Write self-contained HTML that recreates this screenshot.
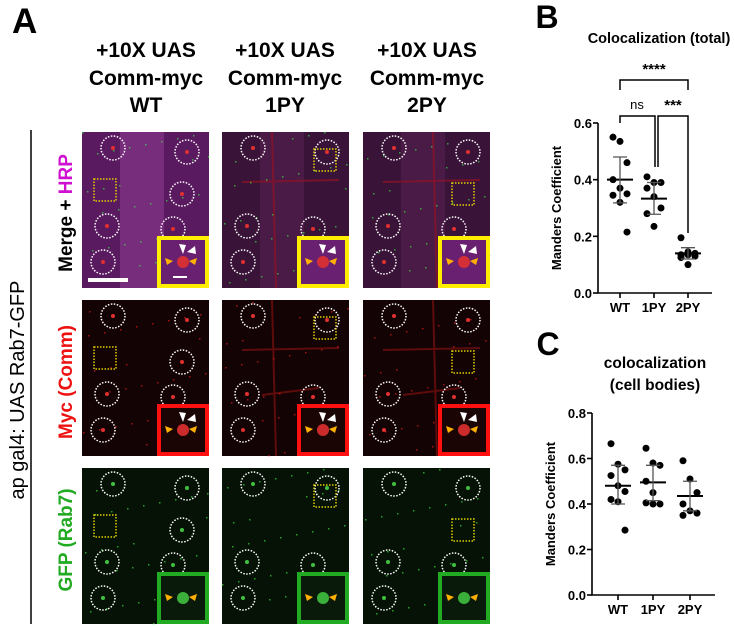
<!DOCTYPE html>
<html><head><meta charset="utf-8"><style>
html,body{margin:0;padding:0;background:#fff;}
svg{display:block;font-family:"Liberation Sans",sans-serif;}
</style></head><body>
<svg id="fig" width="735" height="626" viewBox="0 0 735 626">
<text x="12" y="33" font-size="35" font-weight="bold">A</text>
<g font-size="21" font-weight="bold" text-anchor="middle">
<text x="146" y="57">+10X UAS</text><text x="146" y="85">Comm-myc</text><text x="146" y="112">WT</text>
<text x="285" y="57">+10X UAS</text><text x="285" y="85">Comm-myc</text><text x="285" y="112">1PY</text>
<text x="427" y="57">+10X UAS</text><text x="427" y="85">Comm-myc</text><text x="427" y="112">2PY</text>
</g>
<line x1="31" y1="130" x2="31" y2="624" stroke="#000" stroke-width="1.5"/>
<text transform="translate(24,390) rotate(-90)" font-size="20" text-anchor="middle">ap gal4: UAS Rab7-GFP</text>
<text transform="translate(72,213) rotate(-90)" font-size="19" font-weight="bold" text-anchor="middle">Merge + <tspan fill="#d010d0">HRP</tspan></text>
<text transform="translate(72,382) rotate(-90)" font-size="19" font-weight="bold" fill="#ee1111" text-anchor="middle">Myc (Comm)</text>
<text transform="translate(72,540) rotate(-90)" font-size="19" font-weight="bold" fill="#22aa22" text-anchor="middle">GFP (Rab7)</text>
<g id="panels"></g>
<g id="chartB"></g>
<g id="chartC"></g>
</svg>
<script>
// Chart B data
const catsB = ["WT","1PY","2PY"];
const bWT = [0.55,0.535,0.46,0.40,0.37,0.35,0.345,0.32,0.215];
const b1PY = [0.41,0.39,0.39,0.37,0.34,0.30,0.28,0.235];
const b2PY = [0.195,0.145,0.14,0.135,0.135,0.13,0.125,0.10];
const bMean = [0.40,0.333,0.14];
const bSdHi = [0.48,0.39,0.16];
const bSdLo = [0.318,0.278,0.12];
const bTicks = ["0.0","0.2","0.4","0.6"];
// Chart C data
const catsC = ["WT","1PY","2PY"];
const cWT = [0.665,0.575,0.55,0.525,0.48,0.455,0.42,0.41,0.285];
const c1PY = [0.645,0.58,0.57,0.50,0.45,0.40,0.405,0.40];
const c2PY = [0.59,0.51,0.45,0.40,0.37,0.36,0.35];
const cMean = [0.48,0.495,0.435];
const cSdHi = [0.57,0.57,0.50];
const cSdLo = [0.40,0.415,0.37];
const cTicks = ["0.0","0.2","0.4","0.6","0.8"];

const NS="http://www.w3.org/2000/svg";
function mk(tag,attrs,parent){const e=document.createElementNS(NS,tag);for(const k in attrs)e.setAttribute(k,attrs[k]);parent.appendChild(e);return e;}

// ---------- microscopy panels ----------
const panels=document.getElementById('panels');
const colX=[82,222,363], rowY=[132,300,468], PW=127, PH=156;
const rowBg=['#5a1a60','#140304','#061206'];
const circ=[[31,16],[105,20],[25,94],[91,97],[21,130],[100,62]];
const sq=[[23,58],[103,28],[100,62]];
const dotCol=['#30ff40','#ff2020','#40ff40'];
for(let r=0;r<3;r++)for(let c=0;c<3;c++){
  const x=colX[c],y=rowY[r];
  const g=mk('g',{},panels);
  
  
  let bg=rowBg[r]; if(r===0&&c>0) bg='#3a1438';
  mk('rect',{x:x,y:y,width:PW,height:PH,fill:bg},g);
  if(r===0){mk('rect',{x:x+38,y:y,width:44,height:PH,fill:c===0?'#8a3a90':'#542050',opacity:0.6},g);}
  if(r===1&&c>0){mk('path',{d:`M${x+c*20+30} ${y} L${x+c*20+34} ${y+PH} M${x+20} ${y+50} L${x+PW-10} ${y+48} M${x+40} ${y+95} L${x+PW-30} ${y+88}`,stroke:'#901010','stroke-width':2,fill:'none',opacity:0.6},g);}
  if(r===0&&c>0){mk('path',{d:`M${x+c*20+30} ${y} L${x+c*20+34} ${y+PH} M${x+20} ${y+50} L${x+PW-10} ${y+48}`,stroke:'#a01020','stroke-width':2,fill:'none',opacity:0.6},g);}
  for(let i=0;i<30;i++){const px=x+((i*37+c*13+r*7)%PW),py=y+((i*53+c*29+r*11)%PH);
    mk('rect',{x:px,y:py,width:1.5,height:1.5,fill:dotCol[r],opacity:0.6},g);}
  const cs=c===0?circ.slice(0,6):circ.slice(0,5);
  cs.forEach((p)=>{
    mk('circle',{cx:x+p[0],cy:y+p[1],r:12,fill:'none',stroke:'#fff','stroke-width':1.5,'stroke-dasharray':'1.5 1.5'},g);
    mk('circle',{cx:x+p[0],cy:y+p[1],r:2,fill:r===2?'#40c040':'#e03030'},g);});
  const s=sq[c];
  mk('rect',{x:x+s[0]-11,y:y+s[1]-11,width:22,height:22,fill:'none',stroke:'#e0d000','stroke-width':1.5,'stroke-dasharray':'1.5 1.5'},g);
  const ic=['#ffee00','#ff1010','#22aa22'][r];
  const ib=['#6a2070','#1a0404','#0a1a0a'][r];
  mk('rect',{x:x+PW-50,y:y+PH-50,width:48,height:48,fill:ib,stroke:ic,'stroke-width':4},g);
  mk('circle',{cx:x+PW-26,cy:y+PH-26,r:6,fill:r===2?'#40c040':'#e03030',opacity:0.9},g);
  mk('path',{d:`M${x+PW-44} ${y+PH-30} l8 3 l-6 4 z M${x+PW-12} ${y+PH-30} l-8 3 l6 4 z`,fill:'#ffb000'},g);
  if(r<2) mk('path',{d:`M${x+PW-30} ${y+PH-44} l4 10 l3 -9 z M${x+PW-14} ${y+PH-42} l-8 6 l9 2 z`,fill:'#fff'},g);
  if(r===0&&c===0){mk('rect',{x:x+6,y:y+PH-10,width:40,height:4,fill:'#fff'},g);mk('rect',{x:x+PW-36,y:y+PH-12,width:14,height:2,fill:'#fff'},g);}
}

// ---------- scatter charts ----------
function chart(gid,o){
  const g=document.getElementById(gid);
  const ys=v=>o.y0-(v/o.vmax)*(o.y0-o.ytop);
  const xs=i=>o.cx[i];
  const ax=mk('path',{d:`M${o.ax} ${o.ytop} L${o.ax} ${o.y0} L${o.xend} ${o.y0}`,stroke:'#000','stroke-width':1.6,fill:'none'},g);
  
  
  o.ticks.forEach((t,i)=>{const v=i*o.step,yy=ys(v);
    mk('line',{x1:o.ax-5,y1:yy,x2:o.ax,y2:yy,stroke:'#000','stroke-width':1.6},g);
    const tx=mk('text',{x:o.ax-6,y:yy+5,'font-size':13,'font-weight':'bold','text-anchor':'end'},g);
    tx.textContent=t;
    
    });
  o.cats.forEach((c,i)=>{
    mk('line',{x1:xs(i),y1:o.y0,x2:xs(i),y2:o.y0+5,stroke:'#000','stroke-width':1.6},g);
    const tx=mk('text',{x:xs(i),y:o.y0+19,'font-size':13,'font-weight':'bold','text-anchor':'middle'},g);
    tx.textContent=c;
    
    
    const pts=o.series[i];
    pts.forEach((v,j)=>{
      const d=mk('circle',{cx:xs(i)+(j%3-1)*7,cy:ys(v),r:3.5,fill:'#000'},g);
      
      });
    const m=mk('line',{x1:xs(i)-13,y1:ys(o.mean[i]),x2:xs(i)+13,y2:ys(o.mean[i]),stroke:'#000','stroke-width':2},g);
    
    
    const e=mk('path',{d:`M${xs(i)} ${ys(o.hi[i])} L${xs(i)} ${ys(o.lo[i])} M${xs(i)-7} ${ys(o.hi[i])} L${xs(i)+7} ${ys(o.hi[i])} M${xs(i)-7} ${ys(o.lo[i])} L${xs(i)+7} ${ys(o.lo[i])}`,stroke:'#555','stroke-width':1.3,fill:'none'},g);
    
    
  });
  const yt=mk('text',{transform:`translate(${o.ax-37},${(o.ytop+o.y0)/2}) rotate(-90)`,'font-size':13,'font-weight':'bold','text-anchor':'middle'},g);
  yt.textContent='Manders Coefficient';
  
  
  return {ys,xs,g};
}
const B=chart('chartB',{pre:'chart-b',cats:catsB,series:[bWT,b1PY,b2PY],mean:bMean,hi:bSdHi,lo:bSdLo,ticks:bTicks,step:0.2,vmax:0.6,ax:598,ytop:123,y0:293,xend:712,cx:[620,654,688]});
const C=chart('chartC',{pre:'chart-c',cats:catsC,series:[cWT,c1PY,c2PY],mean:cMean,hi:cSdHi,lo:cSdLo,ticks:cTicks,step:0.2,vmax:0.8,ax:592,ytop:413,y0:595,xend:715,cx:[618,653,690]});

function txt(g,x,y,s,sz,name,extra){const t=mk('text',Object.assign({x:x,y:y,'font-size':sz,'text-anchor':'middle'},extra||{}),g);t.textContent=s;
  
  return t;}
const gb=B.g, gc=C.g;
txt(gb,547,28,'B',32,'panel-label-b',{'font-weight':'bold'});
txt(gb,659,43,'Colocalization (total)',14.5,'chart-b-title',{'font-weight':'bold'});
txt(gc,548,355,'C',32,'panel-label-c',{'font-weight':'bold'});
txt(gc,655,368,'colocalization',15.5,'chart-c-title',{'font-weight':'bold'});
txt(gc,655,390,'(cell bodies)',15.5,'chart-c-title-line2',{'font-weight':'bold'});
const br=mk('path',{d:'M620 90 L620 80 L688 80 L688 90 M620 123 L620 116 L655 116 L655 167 M658 167 L658 116 L688 116 L688 233',stroke:'#000','stroke-width':1.5,fill:'none'},gb);


txt(gb,654,74,'****',15,'sig-wt-2py',{'font-weight':'bold'});
txt(gb,637,109,'ns',13,'sig-wt-1py');
txt(gb,673,110,'***',15,'sig-1py-2py',{'font-weight':'bold'});
</script>
</body></html>
